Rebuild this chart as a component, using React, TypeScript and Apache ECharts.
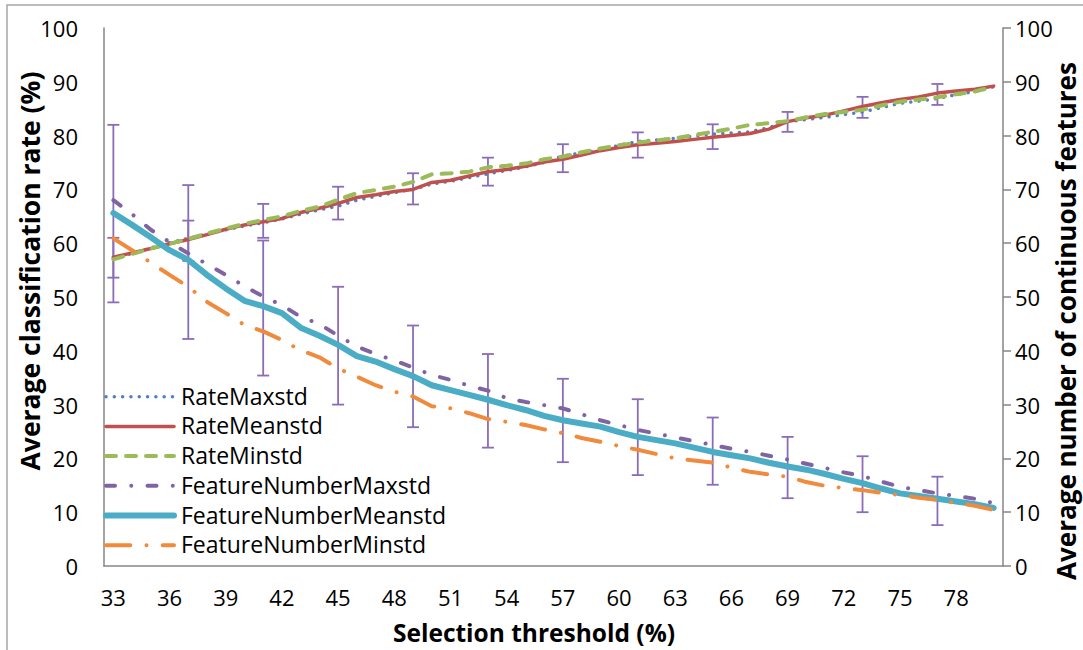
import React, { useEffect, useRef } from "react";
import * as echarts from "echarts";

const thresholds: string[] = [];
for (let t = 33; t <= 80; t++) thresholds.push(String(t));

const rateMaxstd = [57.2, 58.1, 59.1, 60.1, 60.9, 61.7, 62.5, 63.2, 63.8, 64.5, 65.4, 66.2, 66.9, 68.0, 68.7, 69.4, 70.0, 71.0, 71.5, 72.2, 72.9, 73.5, 74.2, 75.0, 76.2, 76.8, 77.3, 78.2, 78.9, 79.2, 79.5, 79.9, 80.3, 80.5, 80.7, 81.5, 82.6, 83.0, 83.4, 83.9, 84.4, 85.2, 86.0, 86.4, 86.9, 87.6, 88.2, 89.1];
const rateMeanstd = [57.4, 58.2, 59.0, 59.9, 60.7, 61.6, 62.6, 63.4, 64.0, 64.6, 65.7, 66.5, 67.4, 68.5, 69.0, 69.6, 70.0, 71.3, 71.7, 72.5, 73.3, 73.7, 74.3, 75.1, 75.6, 76.4, 77.2, 77.8, 78.3, 78.6, 78.9, 79.3, 79.7, 80.0, 80.4, 81.2, 82.6, 83.3, 83.8, 84.6, 85.4, 86.1, 86.7, 87.2, 87.9, 88.3, 88.6, 89.2];
const rateMinstd = [57.0, 58.0, 59.0, 59.9, 60.8, 61.8, 62.7, 63.6, 64.3, 65.0, 66.0, 66.8, 68.1, 69.3, 69.9, 70.5, 71.4, 72.8, 73.0, 73.3, 74.1, 74.4, 74.8, 75.6, 76.1, 76.9, 77.6, 78.2, 78.7, 79.1, 79.5, 80.1, 80.7, 81.3, 82.0, 82.3, 82.7, 83.4, 84.0, 84.4, 84.8, 85.6, 86.3, 86.7, 87.1, 87.7, 88.2, 89.1];
const featureNumberMaxstd = [68.0, 65.4, 62.5, 60.2, 58.1, 56.1, 54.1, 52.0, 50.1, 48.5, 46.3, 45.0, 42.8, 40.8, 39.4, 38.2, 36.9, 35.5, 34.6, 33.5, 32.6, 31.2, 30.5, 29.9, 29.3, 28.2, 27.1, 26.2, 25.3, 24.6, 23.9, 23.2, 22.5, 21.8, 21.2, 20.5, 19.8, 19.0, 18.2, 17.4, 16.7, 15.7, 14.7, 14.1, 13.5, 13.0, 12.5, 11.7];
const featureNumberMeanstd = [65.6, 63.4, 61.1, 58.7, 56.9, 54.1, 51.6, 49.3, 48.3, 47.0, 44.3, 42.8, 41.1, 39.0, 38.0, 36.6, 35.3, 33.6, 32.7, 31.8, 30.9, 29.9, 29.0, 27.9, 27.1, 26.5, 25.9, 24.9, 24.0, 23.4, 22.8, 22.0, 21.2, 20.6, 20.0, 19.2, 18.5, 17.9, 17.1, 16.2, 15.4, 14.4, 13.5, 13.0, 12.5, 12.0, 11.5, 10.8];
const featureNumberMinstd = [60.9, 58.7, 56.4, 54.1, 51.9, 49.1, 47.0, 44.8, 43.6, 42.0, 40.1, 38.8, 36.7, 35.2, 33.6, 32.4, 31.5, 29.7, 29.3, 28.4, 27.3, 26.8, 26.2, 25.4, 24.7, 23.8, 23.1, 22.3, 21.6, 20.8, 20.0, 19.6, 19.2, 18.3, 17.5, 17.0, 16.6, 15.6, 14.9, 14.5, 14.1, 13.6, 13.2, 12.7, 12.3, 11.7, 11.2, 10.4];

// error bars at every 4th threshold (33, 37, ..., 77)
const errorBarIndex = [0, 4, 8, 12, 16, 20, 24, 28, 32, 36, 40, 44];
const rateLow = [53.6, 56.7, 61.0, 64.4, 67.2, 70.7, 73.2, 75.9, 77.5, 80.7, 83.3, 85.7];
const rateHigh = [61.0, 64.2, 67.3, 70.5, 73.0, 75.9, 78.4, 80.6, 82.1, 84.4, 87.2, 89.6];
const featLow = [49.0, 42.2, 35.4, 30.0, 25.8, 22.0, 19.3, 16.9, 15.1, 12.6, 10.0, 7.6];
const featHigh = [82.0, 70.8, 60.5, 51.9, 44.7, 39.4, 34.8, 31.0, 27.6, 24.0, 20.4, 16.6];

const yTicks = [0, 10, 20, 30, 40, 50, 60, 70, 80, 90, 100];

const FONT = "'Open Sans', sans-serif";

const seriesStyles = [
  { name: "RateMaxstd", data: rateMaxstd, color: "#4F81BD", width: 3.5, type: [0.01, 8.3], axis: 0 },
  { name: "RateMeanstd", data: rateMeanstd, color: "#C0504D", width: 3.5, type: "solid", axis: 0 },
  { name: "RateMinstd", data: rateMinstd, color: "#9BBB59", width: 4, type: [10, 10], axis: 0 },
  { name: "FeatureNumberMaxstd", data: featureNumberMaxstd, color: "#8064A2", width: 4, type: [9, 16.25, 0.01, 16.25], axis: 1 },
  { name: "FeatureNumberMeanstd", data: featureNumberMeanstd, color: "#4BACC6", width: 6, type: "solid", axis: 1 },
  { name: "FeatureNumberMinstd", data: featureNumberMinstd, color: "#F08A3C", width: 4, type: [24.3, 16.2, 0.01, 16.2], axis: 1 },
];

export default function App() {
  const ref = useRef<HTMLDivElement>(null);
  useEffect(() => {
    if (!ref.current) return;
    const chart = echarts.init(ref.current, undefined, { renderer: "svg" });

    const errData: number[][] = [];
    errorBarIndex.forEach((idx, k) => {
      errData.push([idx, rateLow[k], rateHigh[k]]);
      errData.push([idx, featLow[k], featHigh[k]]);
    });

    const legendGraphics: any[] = [];
    const legendY0 = 396.7;
    const legendStep = 29.7;
    seriesStyles.forEach((s, i) => {
      const y = legendY0 + i * legendStep;
      legendGraphics.push({
        type: "line",
        shape: { x1: 106, y1: y, x2: 174, y2: y },
        style: {
          stroke: s.color,
          lineWidth: s.width,
          lineDash: Array.isArray(s.type) ? s.type : null,
          lineCap: "round",
        },
        z: 10,
      });
      legendGraphics.push({
        type: "text",
        x: 181,
        y: y - 1,
        style: {
          text: s.name,
          font: `23px ${FONT}`,
          fill: "#000",
          textAlign: "left",
          textVerticalAlign: "middle",
        },
        z: 10,
      });
    });

    const option: any = {
      animation: false,
      backgroundColor: "#fff",
      grid: { left: 104, right: 80, top: 28, bottom: 84, containLabel: false },
      xAxis: {
        type: "category",
        data: thresholds,
        boundaryGap: true,
        axisLine: { lineStyle: { color: "#868686", width: 1.5 } },
        axisTick: { show: false },
        axisLabel: { interval: 2, color: "#000", fontSize: 22, fontFamily: FONT, margin: 20 },
        splitLine: { show: false },
      },
      yAxis: [
        {
          type: "value",
          min: yTicks[0],
          max: yTicks[yTicks.length - 1],
          interval: 10,
          axisLine: { show: true, lineStyle: { color: "#868686", width: 1.5 } },
          axisTick: { show: false },
          axisLabel: { color: "#000", fontSize: 22, fontFamily: FONT, margin: 26 },
          splitLine: { show: false },
        },
        {
          type: "value",
          position: "right",
          min: yTicks[0],
          max: yTicks[yTicks.length - 1],
          interval: 10,
          axisLine: { show: true, lineStyle: { color: "#868686", width: 1.5 } },
          axisTick: { show: true, inside: false, length: 8, lineStyle: { color: "#868686", width: 1.5 } },
          axisLabel: { color: "#000", fontSize: 22, fontFamily: FONT, margin: 12 },
          splitLine: { show: false },
        },
      ],
      series: [
        {
          type: "custom",
          name: "errorBars",
          yAxisIndex: 0,
          z: 1,
          data: errData,
          renderItem: (params: any, api: any) => {
            const x = api.value(0);
            const lo = api.coord([x, api.value(1)]);
            const hi = api.coord([x, api.value(2)]);
            const hw = 6;
            const style = { stroke: "#8B6CB8", lineWidth: 1.8, fill: "none" };
            return {
              type: "group",
              children: [
                { type: "line", shape: { x1: lo[0], y1: lo[1], x2: hi[0], y2: hi[1] }, style },
                { type: "line", shape: { x1: lo[0] - hw, y1: lo[1], x2: lo[0] + hw, y2: lo[1] }, style },
                { type: "line", shape: { x1: hi[0] - hw, y1: hi[1], x2: hi[0] + hw, y2: hi[1] }, style },
              ],
            };
          },
        },
        ...seriesStyles.map((s, i) => ({
          type: "line",
          name: s.name,
          data: s.data,
          yAxisIndex: s.axis,
          symbol: "none",
          z: 2 + i,
          lineStyle: { color: s.color, width: s.width, type: s.type, cap: "round", join: "round" },
          itemStyle: { color: s.color },
        })),
      ],
      graphic: [
        {
          type: "rect",
          shape: { x: 7, y: 5, width: 1200, height: 700 },
          style: { fill: "none", stroke: "#A6A6A6", lineWidth: 1.5 },
          z: -1,
        },
        {
          type: "text",
          x: 30,
          y: 271,
          rotation: Math.PI / 2,
          style: {
            text: "Average classification rate (%)",
            font: `bold 26.5px ${FONT}`,
            fill: "#000",
            textAlign: "center",
            textVerticalAlign: "middle",
          },
        },
        {
          type: "text",
          x: 1066,
          y: 321,
          rotation: Math.PI / 2,
          style: {
            text: "Average number of continuous features",
            font: `bold 26px ${FONT}`,
            fill: "#000",
            textAlign: "center",
            textVerticalAlign: "middle",
          },
        },
        {
          type: "text",
          x: 534,
          y: 632,
          style: {
            text: "Selection threshold (%)",
            font: `bold 24.5px ${FONT}`,
            fill: "#000",
            textAlign: "center",
            textVerticalAlign: "middle",
          },
        },
        ...legendGraphics,
      ],
    };
    chart.setOption(option);
    return () => chart.dispose();
  }, []);
  return (
    <div
      ref={ref}
      style={{ position: "fixed", left: 0, top: 0, width: 1083, height: 650, background: "#fff" }}
    />
  );
}
